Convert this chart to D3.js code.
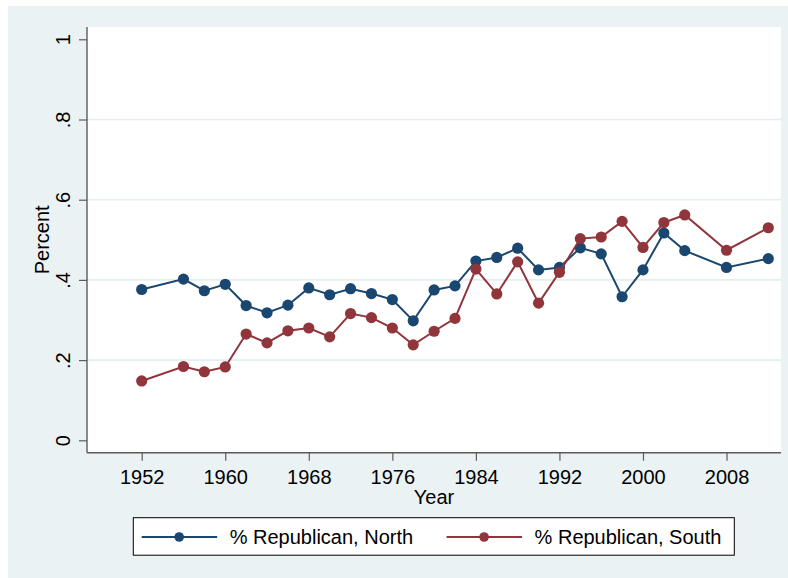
<!DOCTYPE html>
<html>
<head>
<meta charset="utf-8">
<script src="https://cdn.jsdelivr.net/npm/d3@7"></script>
<style>
  body { margin: 0; background: #fff; }
  text { font-family: "Liberation Sans", Arial, sans-serif; fill: #000; }
</style>
</head>
<body>
<script>
// Data
var years = [1952, 1956, 1958, 1960, 1962, 1964, 1966, 1968, 1970, 1972, 1974, 1976, 1978,
             1980, 1982, 1984, 1986, 1988, 1990, 1992, 1994, 1996, 1998, 2000, 2002, 2004, 2008, 2012];
var north = [0.376, 0.402, 0.373, 0.389, 0.336, 0.318, 0.337, 0.380, 0.363, 0.378, 0.366, 0.351, 0.298,
             0.375, 0.385, 0.447, 0.456, 0.479, 0.425, 0.431, 0.480, 0.465, 0.358, 0.425, 0.517, 0.473, 0.431, 0.453];
var south = [0.148, 0.184, 0.171, 0.183, 0.265, 0.243, 0.273, 0.280, 0.258, 0.316, 0.306, 0.280, 0.238,
             0.272, 0.304, 0.427, 0.365, 0.445, 0.342, 0.419, 0.503, 0.507, 0.546, 0.481, 0.543, 0.562, 0.474, 0.530];
var xTicks = [1952, 1960, 1968, 1976, 1984, 1992, 2000, 2008];
var yTicks = [0, 0.2, 0.4, 0.6, 0.8, 1];
var gridTicks = [0.2, 0.4, 0.6, 0.8];
var seriesNames = ["% Republican, North", "% Republican, South"];
var seriesColors = ["#1a476f", "#90353b"];

var W = 788, H = 578;
var plot = {left: 87, right: 781, top: 27, bottom: 452.7};
var fontSize = "20px";

var svg = d3.select("body").append("svg")
    .attr("width", W)
    .attr("height", H);

// outer graph region
svg.append("rect")
    .attr("x", 8).attr("y", 6)
    .attr("width", W - 8).attr("height", H - 6)
    .attr("fill", "#eaf2f3");

// plot region
svg.append("rect")
    .attr("x", plot.left).attr("y", plot.top)
    .attr("width", plot.right - plot.left).attr("height", plot.bottom - plot.top)
    .attr("fill", "#fff");

var x = d3.scaleLinear().domain([1952, 2012]).range([141.7, 768.3]);
var y = d3.scaleLinear().domain([0, 1]).range([440.3, 39.3]);

// gridlines
svg.append("g").selectAll("line")
    .data(gridTicks)
  .enter().append("line")
    .attr("x1", plot.left).attr("x2", plot.right)
    .attr("y1", function(d) { return y(d); })
    .attr("y2", function(d) { return y(d); })
    .attr("stroke", "#e4eef0")
    .attr("stroke-width", 1.6);

// y axis
var yAxis = svg.append("g")
    .attr("transform", "translate(" + plot.left + ",0)")
    .call(d3.axisLeft(y).tickValues(yTicks).tickSize(8).tickSizeOuter(0)
      .tickFormat(function(d) { return d === 0 ? "0" : d === 1 ? "1" : d3.format(".1f")(d).replace(/^0/, ""); }));
yAxis.select(".domain").remove();
yAxis.append("line")
    .attr("x1", 0).attr("x2", 0)
    .attr("y1", plot.top).attr("y2", plot.bottom)
    .attr("stroke", "#5b5b5b").attr("stroke-width", 1.4);
yAxis.selectAll(".tick line").attr("stroke", "#5b5b5b").attr("stroke-width", 1.2);
yAxis.selectAll(".tick text")
    .attr("x", null).attr("dy", null)
    .attr("transform", "translate(-24,0) rotate(-90)")
    .attr("text-anchor", "middle")
    .attr("dominant-baseline", "central")
    .style("font-size", fontSize)
    .style("font-family", "Liberation Sans, Arial, sans-serif")
    .attr("fill", "#000");

// x axis
var xAxis = svg.append("g")
    .attr("transform", "translate(0," + plot.bottom + ")")
    .call(d3.axisBottom(x).tickValues(xTicks).tickSize(8).tickSizeOuter(0).tickFormat(d3.format("d")));
xAxis.select(".domain").remove();
xAxis.append("line")
    .attr("x1", plot.left).attr("x2", plot.right)
    .attr("y1", 0).attr("y2", 0)
    .attr("stroke", "#5b5b5b").attr("stroke-width", 1.4);
xAxis.selectAll(".tick line").attr("stroke", "#5b5b5b").attr("stroke-width", 1.2);
xAxis.selectAll(".tick text")
    .attr("y", 24).attr("dy", null)
    .attr("dominant-baseline", "central")
    .style("font-size", fontSize)
    .style("font-family", "Liberation Sans, Arial, sans-serif")
    .attr("fill", "#000");

// axis titles
svg.append("text")
    .attr("x", (plot.left + plot.right) / 2)
    .attr("y", 497)
    .attr("text-anchor", "middle")
    .attr("dominant-baseline", "central")
    .style("font-size", fontSize)
    .text("Year");

svg.append("text")
    .attr("transform", "translate(42," + ((plot.top + plot.bottom) / 2) + ") rotate(-90)")
    .attr("text-anchor", "middle")
    .attr("dominant-baseline", "central")
    .style("font-size", fontSize)
    .text("Percent");

// series
var line = d3.line()
    .x(function(d) { return x(d.year); })
    .y(function(d) { return y(d.value); });

[north, south].forEach(function(vals, k) {
  var pts = years.map(function(yr, i) { return {year: yr, value: vals[i]}; });
  svg.append("path")
      .datum(pts)
      .attr("d", line)
      .attr("fill", "none")
      .attr("stroke", seriesColors[k])
      .attr("stroke-width", 2);
  svg.append("g").selectAll("circle")
      .data(pts)
    .enter().append("circle")
      .attr("cx", function(d) { return x(d.year); })
      .attr("cy", function(d) { return y(d.value); })
      .attr("r", 5.6)
      .attr("fill", seriesColors[k]);
});

// legend
var legend = svg.append("g");
legend.append("rect")
    .attr("x", 133.3).attr("y", 517.7)
    .attr("width", 601).attr("height", 37.5)
    .attr("fill", "#fff")
    .attr("stroke", "#000")
    .attr("stroke-width", 1);

var legendX = [141.7, 446.6];
seriesNames.forEach(function(name, k) {
  var lx = legendX[k];
  legend.append("line")
      .attr("x1", lx).attr("x2", lx + 75.5)
      .attr("y1", 537).attr("y2", 537)
      .attr("stroke", seriesColors[k])
      .attr("stroke-width", 2);
  legend.append("circle")
      .attr("cx", lx + 37.5).attr("cy", 537)
      .attr("r", 4.8)
      .attr("fill", seriesColors[k]);
  legend.append("text")
      .attr("x", lx + 88)
      .attr("y", 537)
      .attr("dominant-baseline", "central")
      .style("font-size", fontSize)
      .text(name);
});
</script>
</body>
</html>
